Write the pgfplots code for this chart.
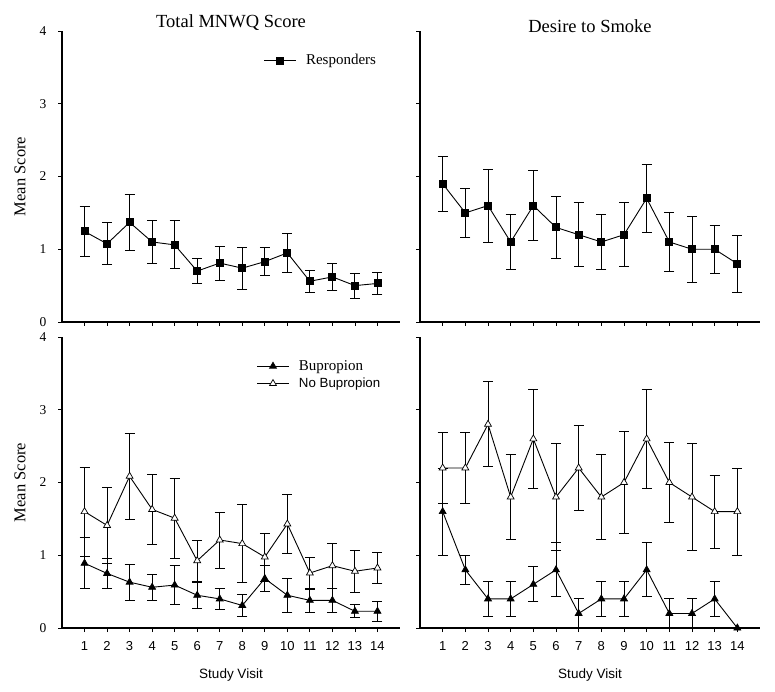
\documentclass[border=0pt]{standalone}
\usepackage{fontspec}
\setmainfont{Liberation Serif}
\setsansfont{Liberation Sans}
\usepackage{pgfplots}
\pgfplotsset{compat=1.18}
\pgfplotsset{
  panel/.style={
    scale only axis, height=291pt,
    xmin=0, xmax=15, ymin=0, ymax=4,
    axis x line*=bottom, axis y line*=left,
    axis line style={line width=1.6pt, -},
    xtick={1,...,14}, ytick={0,1,2,3,4},
    tick align=outside, major tick length=4pt,
    tick style={line width=0.8pt, black},
    /pgf/number format/assume math mode=true,
    yticklabel style={font=\fontsize{13.5}{13.5}\selectfont, xshift=-8pt},
    xticklabel style={font=\sffamily\fontsize{13}{13}\selectfont, yshift=-6pt},
    title style={font=\fontsize{18.5}{18.5}\selectfont, at={(0.5,1)}, anchor=base},
    ylabel style={font=\fontsize{16.5}{16.5}\selectfont, at={(axis description cs:-0.124,0.5)}, anchor=center},
    xlabel style={font=\sffamily\fontsize{13.5}{13.5}\selectfont, at={(axis description cs:0.5,-0.16)}, anchor=center},
    legend style={draw=none, fill=none, inner sep=0pt, row sep=3pt, nodes={inner sep=1.5pt}, legend cell align=left, font=\fontsize{15}{15}\selectfont,
      /tikz/every odd column/.style={column sep=8pt}},
    legend image code/.code={\draw[mark repeat=2,mark phase=2] plot coordinates {(0pt,0pt)(16pt,0pt)(32pt,0pt)};},
    clip=false,
  },
  ser/.style={line width=0.9pt, black,
    error bars/y dir=both, error bars/y explicit,
    error bars/error bar style={line width=0.9pt, black},
    error bars/error mark options={rotate=90, mark size=5pt, line width=0.9pt, black}},
  sq/.style={mark=square*, mark size=3.5pt, mark options={fill=black, draw=black, solid}},
  trf/.style={mark=triangle*, mark size=4pt, mark options={fill=black, draw=black, solid, line width=0.7pt}},
  tro/.style={mark=triangle*, mark size=4pt, mark options={fill=white, draw=black, solid, line width=0.7pt}},
}
\begin{document}
\begin{tikzpicture}[x=1pt,y=1pt]
\path[use as bounding box] (0,0) rectangle (775,691);

% top-left
\begin{axis}[panel, at={(62pt,369pt)}, anchor=south west, width=338pt,
  xticklabels={}, title={Total MNWQ Score}, title style={yshift=-3pt}, ylabel={Mean Score},
  legend style={at={(rel axis cs:0.596,0.925)}, anchor=north west}]
\addplot[ser, sq] coordinates {
(1,1.245) +- (0,0.35)
(2,1.075) +- (0,0.29)
(3,1.37) +- (0,0.38)
(4,1.10) +- (0,0.30)
(5,1.06) +- (0,0.33)
(6,0.70) +- (0,0.17)
(7,0.81) +- (0,0.235)
(8,0.74) +- (0,0.29)
(9,0.83) +- (0,0.19)
(10,0.95) +- (0,0.27)
(11,0.56) +- (0,0.15)
(12,0.62) +- (0,0.18)
(13,0.50) +- (0,0.17)
(14,0.53) +- (0,0.155)
};
\addlegendentry{Responders}
\end{axis}

% top-right
\begin{axis}[panel, at={(420pt,369pt)}, anchor=south west, width=340pt,
  xticklabels={}, yticklabels={}, title={Desire to Smoke}, title style={yshift=-8pt}]
\addplot[ser, sq] coordinates {
(1,1.9) +- (0,0.375)
(2,1.5) +- (0,0.34)
(3,1.6) +- (0,0.5)
(4,1.1) +- (0,0.375)
(5,1.6) +- (0,0.48)
(6,1.3) +- (0,0.42)
(7,1.2) +- (0,0.44)
(8,1.1) +- (0,0.375)
(9,1.2) +- (0,0.44)
(10,1.7) +- (0,0.47)
(11,1.1) +- (0,0.41)
(12,1.0) +- (0,0.45)
(13,1.0) +- (0,0.33)
(14,0.8) +- (0,0.39)
};
\end{axis}

% bottom-left
\begin{axis}[panel, at={(62pt,63pt)}, anchor=south west, width=338pt,
  ylabel={Mean Score}, xlabel={Study Visit},
  legend style={at={(rel axis cs:0.575,0.925)}, anchor=north west}]
\addplot[ser, trf] coordinates {
(1,0.89) +- (0,0.35)
(2,0.75) +- (0,0.20)
(3,0.63) +- (0,0.245)
(4,0.56) +- (0,0.18)
(5,0.59) +- (0,0.265)
(6,0.45) +- (0,0.18)
(7,0.40) +- (0,0.15)
(8,0.31) +- (0,0.145)
(9,0.68) +- (0,0.18)
(10,0.45) +- (0,0.235)
(11,0.38) +- (0,0.16)
(12,0.38) +- (0,0.165)
(13,0.23) +- (0,0.09)
(14,0.23) +- (0,0.135)
};
\addlegendentry{Bupropion}
\addplot[ser, tro] coordinates {
(1,1.60) +- (0,0.61)
(2,1.41) +- (0,0.52)
(3,2.085) +- (0,0.595)
(4,1.63) +- (0,0.48)
(5,1.51) +- (0,0.55)
(6,0.925) +- (0,0.28)
(7,1.21) +- (0,0.385)
(8,1.16) +- (0,0.54)
(9,0.976) +- (0,0.33)
(10,1.43) +- (0,0.40)
(11,0.756) +- (0,0.22)
(12,0.857) +- (0,0.31)
(13,0.78) +- (0,0.29)
(14,0.825) +- (0,0.215)
};
\addlegendentry{\sffamily\fontsize{13.3}{13.3}\selectfont No Bupropion}
\end{axis}

% bottom-right
\begin{axis}[panel, at={(420pt,63pt)}, anchor=south west, width=340pt,
  yticklabels={}, xlabel={Study Visit}]
\addplot[ser, trf] coordinates {
(1,1.6) +- (0,0.6)
(2,0.8) +- (0,0.2)
(3,0.4) +- (0,0.24)
(4,0.4) +- (0,0.24)
(5,0.6) +- (0,0.24)
(6,0.8) +- (0,0.37)
(7,0.2) +- (0,0.2)
(8,0.4) +- (0,0.24)
(9,0.4) +- (0,0.24)
(10,0.8) +- (0,0.37)
(11,0.2) +- (0,0.2)
(12,0.2) +- (0,0.2)
(13,0.4) +- (0,0.24)
(14,0.0) +- (0,0.0)
};
\addplot[ser, tro] coordinates {
(1,2.2) +- (0,0.49)
(2,2.2) +- (0,0.49)
(3,2.8) +- (0,0.585)
(4,1.8) +- (0,0.58)
(5,2.6) +- (0,0.68)
(6,1.8) +- (0,0.73)
(7,2.2) +- (0,0.585)
(8,1.8) +- (0,0.58)
(9,2.0) +- (0,0.7)
(10,2.6) +- (0,0.68)
(11,2.0) +- (0,0.545)
(12,1.8) +- (0,0.73)
(13,1.6) +- (0,0.5)
(14,1.6) +- (0,0.6)
};
\end{axis}
\end{tikzpicture}
\end{document}
